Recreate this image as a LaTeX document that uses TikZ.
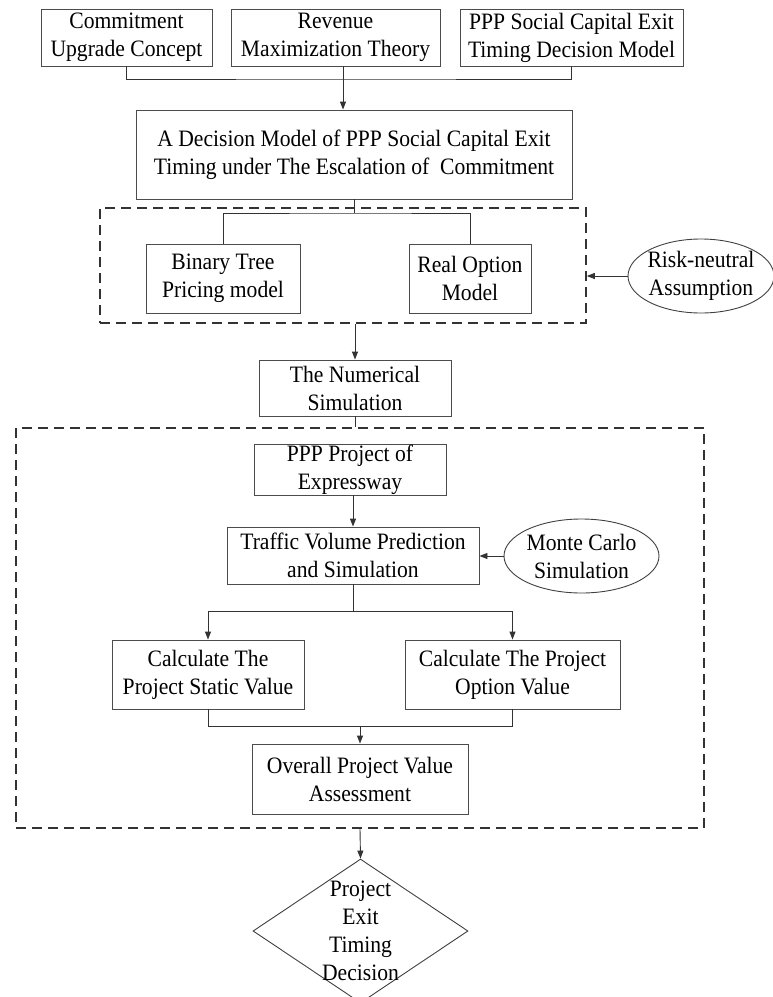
\documentclass[tikz,border=0pt]{standalone}
\usepackage{fontspec}
\setmainfont{Liberation Serif}[FakeStretch=0.92]
\usetikzlibrary{arrows.meta,shapes.geometric}
\begin{document}
\begin{tikzpicture}[x=1pt,y=-1pt,
  txt/.style={align=center, inner sep=0pt, font=\fontsize{23.5}{28}\selectfont},
  box/.style={txt, draw=black!70, line width=0.9pt},
  oval/.style={ellipse, draw=black!75, line width=0.9pt, inner sep=0pt},
  dia/.style={diamond, draw=black!75, line width=0.9pt, inner sep=0pt},
  grp/.style={draw=black!80, line width=1.6pt, dash pattern=on 10pt off 6pt, inner sep=0pt},
  ln/.style={draw=black!80, line width=0.9pt},
  arr/.style={ln, -{Triangle[length=8pt,width=6pt]}}]
\clip (0,0) rectangle (773,997);
\useasboundingbox (0,0) rectangle (773,997);

% top row
\node[box, minimum width=171pt, minimum height=57pt] (c1) at (126.5,37.5) {Commitment\\Upgrade Concept};
\node[box, minimum width=209pt, minimum height=57pt] (c2) at (335.5,37.5) {Revenue\\Maximization Theory};
\node[box, minimum width=223pt, minimum height=57pt] (c3) at (571.5,37.5) {PPP Social Capital Exit\\Timing Decision Model};
\coordinate (j1) at (343,79);

% main model
\node[box, minimum width=436pt, minimum height=89pt] (main) at (354,154.5) {A Decision Model of PPP Social Capital Exit\\Timing under The Escalation of\ \ Commitment};

% dashed group 1
\node[grp, minimum width=486pt, minimum height=115pt] (d1) at (343,265.5) {};
\node[box, minimum width=154pt, minimum height=69pt] (bin) at (223,278.5) {Binary Tree\\Pricing model};
\node[box, minimum width=122pt, minimum height=69pt] (real) at (470,278.5) {Real Option\\Model};
\coordinate (j2) at (354,213);
\node[oval, minimum width=146pt, minimum height=74pt] (risk) at (701,276) {};
\node[txt] (risktxt) at (risk.center) {Risk-neutral\\Assumption};

% numerical simulation
\node[box, minimum width=192pt, minimum height=56pt] (num) at (355,388) {The Numerical\\Simulation};

% dashed group 2
\node[grp, minimum width=688pt, minimum height=400pt] (d2) at (360,628) {};
\node[box, minimum width=192pt, minimum height=51pt] (ppp) at (350,469.5) {PPP Project of\\Expressway};
\node[box, minimum width=252pt, minimum height=57pt] (traf) at (353,555.5) {Traffic Volume Prediction\\and Simulation};
\node[oval, minimum width=155pt, minimum height=74pt] (mc) at (581.5,556) {};
\node[txt] (mctxt) at (mc.center) {Monte Carlo\\Simulation};
\coordinate (j3) at (353,611);
\node[box, minimum width=192pt, minimum height=69pt] (stat) at (208,674.5) {Calculate The\\Project Static Value};
\node[box, minimum width=215pt, minimum height=69pt] (opt) at (512.5,674.5) {Calculate The Project\\Option Value};
\coordinate (j4) at (360,726);
\node[box, minimum width=216pt, minimum height=70pt] (over) at (360,779) {Overall Project Value\\Assessment};

% decision diamond
\node[dia, minimum width=215pt, minimum height=144pt] (dec) at (360.5,931) {};
\node[txt] (dectxt) at (360.5,931) {Project\\Exit\\Timing\\Decision};

% connectors
\draw[ln] (c1.south) |- (j1) -| (c3.south);
\draw[arr] (c2.south -| j1) -- (main.north -| j1);
\draw[ln] (main.south -| j2) -- (j2);
\draw[ln] (bin.north) |- (j2) -| (real.north);
\draw[arr] (risk.west) -- (risk.west -| d1.east);
\draw[arr] (num.north |- d1.south) -- (num.north);
\draw[ln] (num.south) -- (num.south |- d2.north);
\draw[arr] (traf.north |- ppp.south) -- (traf.north);
\draw[arr] (mc.west) -- (mc.west -| traf.east);
\draw[ln] (traf.south) -- (j3);
\draw[arr] (j3) -| (stat.north);
\draw[arr] (j3) -| (opt.north);
\draw[ln] (stat.south) |- (j4) -| (opt.south);
\draw[arr] (j4) -- (over.north);
\draw[arr] (d2.south) -- (dec.north);
\end{tikzpicture}
\end{document}
